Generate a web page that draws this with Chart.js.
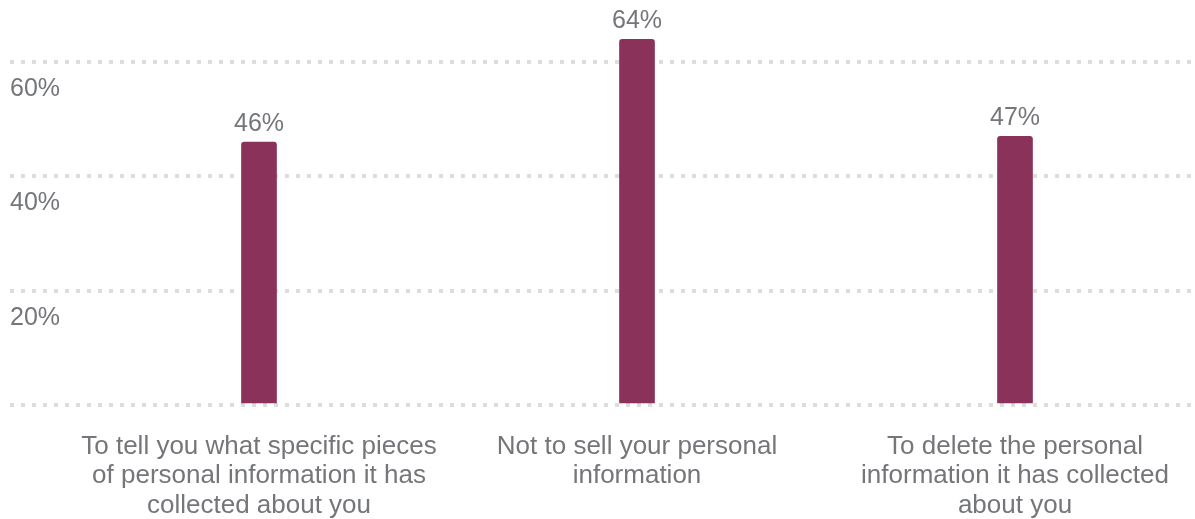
<!DOCTYPE html>
<html>
<head>
<meta charset="utf-8">
<script src="https://cdn.jsdelivr.net/npm/chart.js@4.4.0/dist/chart.umd.min.js"></script>
<style>
  html, body { margin: 0; padding: 0; background: #ffffff; overflow: hidden; }
  #chartWrap { width: 1195px; height: 519px; overflow: hidden; }
</style>
</head>
<body>
<div id="chartWrap"><canvas id="grafico" width="1204" height="519"></canvas></div>
<script>
// datos del grafico
const categorias = [
    ['To tell you what specific pieces', 'of personal information it has', 'collected about you'],
    ['Not to sell your personal', 'information'],
    ['To delete the personal', 'information it has collected', 'about you']
];
const valores = [46, 64, 47];
const ticksY = [20, 40, 60];

const colorBarra = '#8a3259';
const colorTexto = '#74767a';
const colorGrid = '#dddddd';
const fuente = '"Liberation Sans", Arial, sans-serif';

// etiquetas encima de cada barra
const etiquetasPlugin = {
    id: 'etiquetas',
    afterDatasetsDraw(chart) {
        const ctx = chart.ctx;
        const meta = chart.getDatasetMeta(0);
        ctx.save();
        ctx.font = '25px ' + fuente;
        ctx.fillStyle = colorTexto;
        ctx.textAlign = 'center';
        ctx.textBaseline = 'alphabetic';
        meta.data.forEach((bar, i) => {
            ctx.fillText(valores[i] + '%', bar.x, bar.y - 11);
        });
        ctx.restore();
    }
};

const visible = c => c.tick && (c.tick.value === 0 || ticksY.includes(c.tick.value));

const ctx1 = document.getElementById('grafico').getContext('2d');
new Chart(ctx1, {
    type: 'bar',
    data: {
        labels: categorias,
        datasets: [{
            data: valores,
            backgroundColor: colorBarra,
            barThickness: 35,
            borderRadius: { topLeft: 3, topRight: 3 },
            borderSkipped: 'bottom'
        }]
    },
    options: {
        responsive: false,
        animation: false,
        layout: { padding: { top: 5, left: 10, right: 0, bottom: 0 } },
        plugins: {
            legend: { display: false },
            tooltip: { enabled: false }
        },
        scales: {
            x: {
                grid: { display: false, drawTicks: false },
                border: { display: false },
                ticks: {
                    color: colorTexto,
                    font: { family: fuente, size: 26, lineHeight: 1.13 },
                    maxRotation: 0,
                    autoSkip: false,
                    padding: 27
                },
                afterFit(scale) { scale.height = 114; }
            },
            y: {
                min: 0,
                max: 70,
                border: { display: false, dash: [4, 7], dashOffset: 5 },
                grid: {
                    color: c => visible(c) ? colorGrid : 'rgba(0,0,0,0)',
                    tickColor: c => visible(c) ? colorGrid : 'rgba(0,0,0,0)',
                    lineWidth: 4,
                    tickWidth: 4,
                    tickBorderDash: [4, 7],
                    drawTicks: true,
                    tickLength: 60
                },
                ticks: {
                    stepSize: 20,
                    mirror: true,
                    padding: -60,
                    labelOffset: 27,
                    color: colorTexto,
                    font: { family: fuente, size: 25 },
                    callback: v => ticksY.includes(v) ? v + '%' : ''
                },
                afterFit(scale) { scale.width = 60; }
            }
        }
    },
    plugins: [etiquetasPlugin]
});
</script>
</body>
</html>
